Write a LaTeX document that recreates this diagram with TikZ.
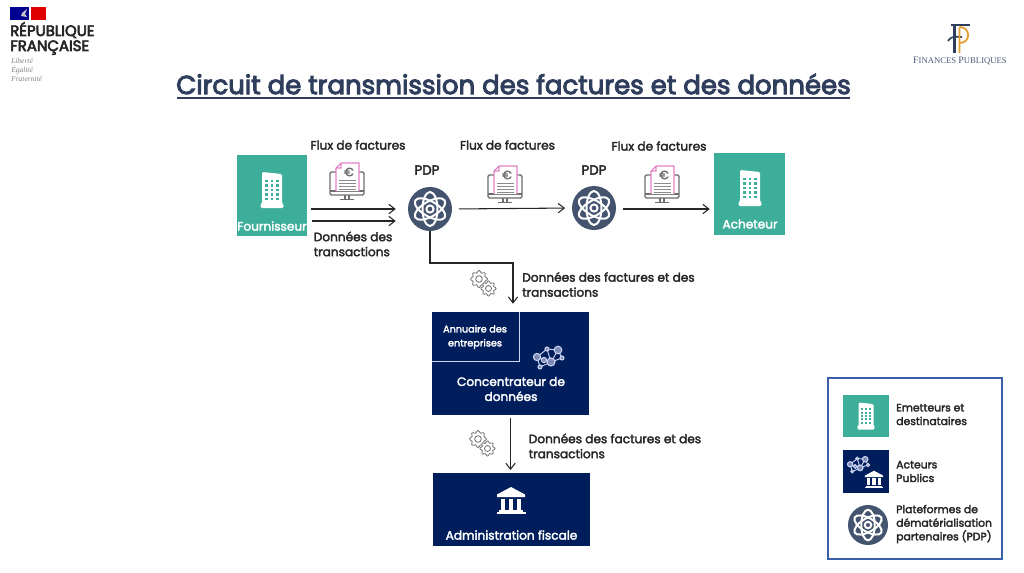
\documentclass[tikz,border=0pt]{standalone}
\usepackage{fontspec}
\setmainfont[FakeBold=2.6]{Poppins}
\newfontfamily\titlefont[FakeBold=3.8]{Poppins}
\newfontfamily\logofont[FakeBold=4]{Poppins}
\newfontfamily\mottofont[Ligatures=TeX]{Liberation Serif}
\usetikzlibrary{%
        arrows.meta
    }
\definecolor{teal}{RGB}{61, 174, 154}
\definecolor{navy}{RGB}{0, 30, 92}
\definecolor{slate}{RGB}{68, 84, 110}
\definecolor{ink}{RGB}{38, 38, 38}
\definecolor{titleink}{RGB}{47, 62, 92}
\definecolor{pinkline}{RGB}{226, 130, 196}
\definecolor{iconline}{RGB}{110, 110, 110}
\definecolor{legendline}{RGB}{58, 95, 168}
\definecolor{lavender}{RGB}{205, 212, 240}
\definecolor{gold}{RGB}{226, 160, 50}

\tikzstyle{tealbox} = [fill=teal, draw=none, inner sep=0pt]
\tikzstyle{navybox} = [fill=navy, draw=none, inner sep=0pt]
\tikzstyle{pdpdisc} = [fill=slate, draw=none, circle, inner sep=0pt]
\tikzstyle{flow} = [-{Straight Barb[length=4.5pt, width=7pt]}, ink, line width=0.8pt]
\tikzstyle{lbl} = [inner sep=0pt, text=ink, align=left, anchor=west,
    font=\fontsize{9.1}{11.25}\selectfont]
\tikzstyle{lblc} = [lbl, anchor=center, align=center]
\tikzstyle{onbox} = [lblc, text=white]
\tikzstyle{leg} = [lbl, font=\fontsize{8.1}{10.2}\selectfont]

\tikzset{
    building/.pic = {
        \fill[white, rounded corners=1pt] (-10, -18) -- (10, -16) -- (10, 14) -- (11.5, 14) -- (11.5, 18)
            -- (-11.5, 18) -- (-11.5, 14) -- (-10, 14) -- cycle;
        \foreach \px in {-5.5, 0, 5.5} {%
            \foreach \py in {-9, -4.5, 0, 4.5, 9} {%
                \fill[teal] (\px-1.2, \py-1.2) rectangle (\px+1.2, \py+1.2);
            };
        };
    },
    atom/.pic = {
        \foreach \ang in {30, 90, 150} {%
            \draw[white, line width=1.5pt, rotate=\ang] (0, 0) ellipse (17 and 7.5);
        };
        \draw[white, line width=1.5pt] (0, 0) circle (3.6);
    },
    invoice/.pic = {
        \draw[iconline, line width=1.1pt, rounded corners=1pt]
            (-11, -10) -- (-17, -10) -- (-17, 13) -- (17, 13) -- (17, -10) -- (12, -10);
        \draw[iconline, line width=1.1pt] (-17, 9) -- (17, 9);
        \draw[iconline, line width=1.3pt] (-2, 13) -- (-2, 17) (2, 13) -- (2, 17);
        \draw[iconline, line width=1.1pt] (-7, 17.5) -- (7, 17.5);
        \fill[white] (-11, -14) -- (-6, -19) -- (12, -19) -- (12, 9) -- (-11, 9) -- cycle;
        \draw[pinkline, line width=0.8pt] (-11, 9) -- (-11, -14) -- (-6, -19) -- (12, -19)
            -- (12, 9) (-11, -14) -- (-6, -14) -- (-6, -19);
        \node[text=iconline, inner sep=0pt, font=\fontsize{9}{9}\selectfont] (-euro) at (2, -10) {€};
        \foreach \py in {-2, 1, 4, 7} {%
            \draw[iconline!80, line width=0.7pt] (-8, \py) -- (9, \py);
        };
    },
    gearpair/.pic = {
        \draw[iconline, line width=0.6pt, fill=white] plot[smooth cycle, domain=0:352, samples=45]
            (\x:{7.4+1.1*cos(8*\x)});
        \draw[iconline, line width=0.6pt] (0, 0) circle (3.3);
        \draw[iconline, line width=0.6pt, fill=white, shift={(9.5, 9.5)}]
            plot[smooth cycle, domain=0:352, samples=45] (\x:{6.6+1*cos(8*\x)});
        \draw[iconline, line width=0.6pt, shift={(9.5, 9.5)}] (0, 0) circle (3);
    },
    network/.pic = {
        \draw[lavender, line width=0.7pt] (-11, -1) -- (-1, -9) -- (10, -8) -- (3, 4) -- (-8, 9)
            -- (-11, -1) -- (3, 4) -- (14, 0) -- (10, -8) (-1, -9) -- (3, 4);
        \foreach \px/\py/\rad in {-11/-1/3.6, -1/-9/2, 10/-8/3.8, 14/0/2, 3/4/4, -8/9/2, -4/2/2.6} {%
            \fill[lavender!60!navy] (\px, \py) circle (\rad);
            \draw[lavender, line width=0.8pt] (\px, \py) circle (\rad);
        };
    },
    temple/.pic = {
        \fill[white] (0, -13.5) -- (14, -6) -- (14, -3.5) -- (-14, -3.5) -- (-14, -6) -- cycle;
        \foreach \px in {-8, -0, 8} {%
            \fill[white] (\px-2.4, -2) rectangle (\px+2.4, 9);
        };
        \fill[white] (-12, 9.5) rectangle (12, 11);
        \fill[white] (-14.5, 11.5) rectangle (14.5, 13.5);
    }
}

\begin{document}
\begin{tikzpicture}[x=0.75pt, y=-0.75pt]

    \useasboundingbox[fill=white] (0, 0) rectangle (1024, 572);

    % logos
    \fill[blue!57!black] (10, 7) rectangle (29, 20);
    \fill[red!88!black] (31, 7) rectangle (46, 20);
    \fill[gray!45] (22, 13) -- (27, 9) -- (25, 14) -- (27, 17) -- (21, 16) -- cycle;
    \node[inner sep=0pt, anchor=west, text=ink, font=\logofont\fontsize{11.2}{11.25}\selectfont,
        align=left] (republique) at (10, 38.5) {RÉPUBLIQUE\\FRANÇAISE};
    \node[inner sep=0pt, anchor=west, text=gray, align=left,
        font=\mottofont\itshape\fontsize{5.6}{6.6}\selectfont] (devise) at (11, 70)
        {Liberté\\Égalité\\Fraternité};
    \draw[titleink, line width=1.6pt] (951, 25) -- (970, 25);
    \draw[titleink, line width=2.2pt] (954.5, 25) -- (954.5, 53);
    \draw[titleink, line width=1.2pt] (948, 41) .. controls (952, 35) and (956, 37) .. (962, 37);
    \draw[gold, line width=1.4pt] (959.5, 27) -- (959.5, 53)
        (959.5, 27) .. controls (971, 27) and (971, 43) .. (959.5, 43);
    \node[inner sep=0pt, text=titleink!85, font=\mottofont\fontsize{7.4}{8}\selectfont]
        (finances) at (960, 61) {F\fontsize{6.5}{8}\selectfont INANCES \fontsize{7.4}{8}\selectfont P\fontsize{6.5}{8}\selectfont UBLIQUES};

    \node[inner sep=0pt, text=titleink, font=\titlefont\fontsize{19.5}{22}\selectfont]
        (title) at (513.5, 84) {Circuit de transmission des factures et des données};
    \draw[titleink, line width=1.5pt] (177, 98) -- (850, 98);

    % boxes
    \node[tealbox, minimum width=52.5pt, minimum height=60.75pt] (fournisseur) at (272, 195.5) {};
    \node[tealbox, minimum width=53.25pt, minimum height=61.5pt] (acheteur) at (749.5, 194) {};
    \node[pdpdisc, minimum size=33pt] (pdpa) at (430, 209) {};
    \node[pdpdisc, minimum size=33pt] (pdpb) at (594, 208) {};
    \node[navybox, minimum width=117.75pt, minimum height=77.25pt] (concentrateur) at (510.5, 363.5) {};
    \node[navybox, minimum width=117.75pt, minimum height=54.75pt] (administration) at (511.5, 509.5) {};
    \draw[lavender, line width=0.6pt] (432, 361) -| (519, 312);

    \pic at (272, 190) {building};
    \pic at (750, 188) {building};
    \pic at (430, 209) {atom};
    \pic at (594, 208) {atom};
    \pic at (548, 358) {network};
    \pic at (511, 500.5) {temple};

    \foreach \px/\py in {347/182, 505/185, 662/185} {%
        \pic at (\px, \py) {invoice};
    };
    \pic at (479, 279) {gearpair};
    \pic at (478, 439) {gearpair};

    % connectors
    \coordinate (lowa) at (312, 221);
    \coordinate (elbow) at (513, 263);
    \draw[flow, shorten <=3pt, shorten >=9pt] (fournisseur.east |- pdpa) -- (pdpa.west);
    \draw[flow, shorten >=9pt] (lowa) -- (pdpa.west |- lowa);
    \draw[flow, shorten <=5pt, shorten >=5pt] (pdpa.east) -- (pdpb.west);
    \draw[flow, shorten <=5pt, shorten >=3pt] (pdpb.east |- 0, 209) -- (acheteur.west |- 0, 209);
    \draw[flow, shorten >=6pt] (pdpa.south) |- (elbow) -- (elbow |- concentrateur.north);
    \draw[flow, shorten <=2pt, shorten >=2pt] (concentrateur.south) -- (administration.north -| concentrateur.south);

    % labels
    \node[lblc] (fluxa) at (358, 145) {Flux de factures};
    \node[lblc] (fluxb) at (507.5, 145) {Flux de factures};
    \node[lblc] (fluxc) at (659, 146) {Flux de factures};
    \node[lblc, font=\fontsize{10}{11.25}\selectfont] (pdpalabel) at (427, 170) {PDP};
    \node[lblc, font=\fontsize{10}{11.25}\selectfont] (pdpblabel) at (594, 170) {PDP};
    \node[lbl] (transactions) at (313.5, 244) {Données des\\transactions};
    \node[lbl] (donneesa) at (522, 284.5) {Données des factures et des\\transactions};
    \node[lbl] (donneesb) at (528.5, 446) {Données des factures et des\\transactions};
    \node[onbox] (fournisseurlabel) at (272, 226) {Fournisseur};
    \node[onbox] (acheteurlabel) at (750, 224) {Acheteur};
    \node[onbox, font=\fontsize{7.25}{10.5}\selectfont] (annuaire) at (475, 337) {Annuaire des\\entreprises};
    \node[onbox] (concentrateurlabel) at (511, 389) {Concentrateur de\\données};
    \node[onbox] (administrationlabel) at (511.5, 535) {Administration fiscale};

    % legend
    \draw[legendline, line width=1pt] (828, 378) rectangle (1002, 559);
    \node[tealbox, minimum width=34.5pt, minimum height=31.5pt] (legendteal) at (866, 416) {};
    \node[navybox, minimum width=34.5pt, minimum height=32.25pt] (legendnavy) at (866, 471.5) {};
    \node[pdpdisc, minimum size=30pt] (legendpdp) at (868, 525) {};
    \pic[scale=0.75] at (866, 416) {building};
    \pic[scale=0.72] at (858, 465) {network};
    \pic[scale=0.65] at (874, 479.5) {temple};
    \pic[scale=0.9] at (868, 525) {atom};
    \node[leg] (emetteurs) at (896, 414.5) {Emetteurs et\\destinataires};
    \node[leg] (acteurs) at (896, 471.5) {Acteurs\\Publics};
    \node[leg] (plateformes) at (896, 524) {Plateformes de\\dématérialisation\\partenaires (PDP)};

\end{tikzpicture}
\end{document}
